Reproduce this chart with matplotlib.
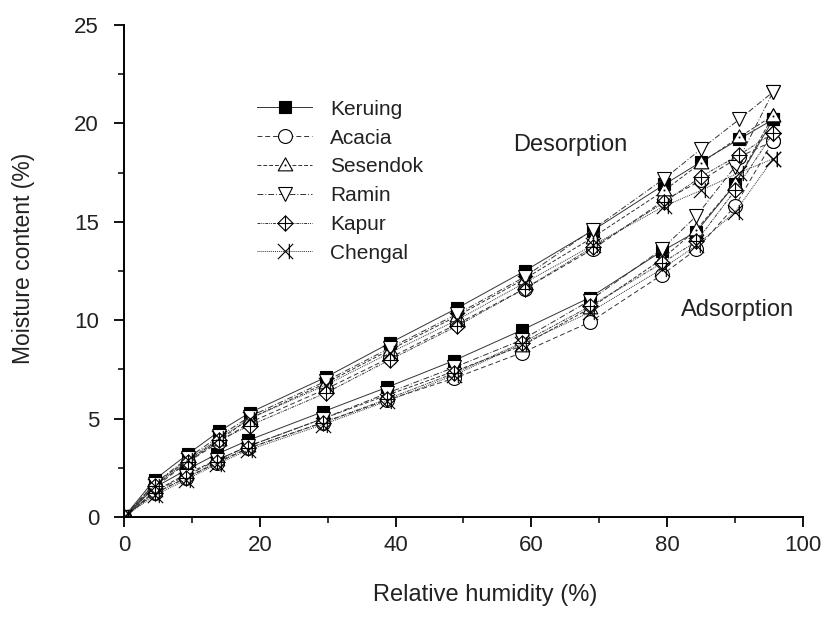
import numpy as np
import matplotlib.pyplot as plt
from matplotlib.path import Path

plt.rcParams['font.family'] = ['Liberation Sans', 'DejaVu Sans']

# Relative humidity (%) steps
rh_ads = [0, 4.5, 9.2, 13.7, 18.3, 29.3, 38.8, 48.6, 58.6, 68.6, 79.2, 84.3, 90.0, 95.6]
rh_des = [0, 4.5, 9.4, 14.0, 18.5, 29.7, 39.2, 49.0, 59.0, 69.0, 79.6, 85.0, 90.6, 95.6]

species = ['Keruing', 'Acacia', 'Sesendok', 'Ramin', 'Kapur', 'Chengal']

# moisture content (%)
keruing_ads = [0, 1.5, 2.4, 3.2, 3.9, 5.35, 6.6, 7.95, 9.5, 11.15, 13.5, 14.5, 16.9, 20.2]
keruing_des = [0, 1.9, 3.2, 4.35, 5.3, 7.1, 8.85, 10.6, 12.5, 14.55, 16.9, 18.05, 19.2, 20.2]
acacia_ads = [0, 1.2, 2.0, 2.75, 3.5, 4.8, 5.95, 7.05, 8.35, 9.9, 12.3, 13.6, 15.8, 19.1]
acacia_des = [0, 1.5, 2.8, 3.8, 4.8, 6.5, 8.1, 9.8, 11.6, 13.6, 16.1, 17.1, 18.3, 19.1]
sesendok_ads = [0, 1.3, 2.2, 2.9, 3.6, 5.0, 6.2, 7.4, 8.7, 10.6, 13.1, 14.6, 16.9, 20.4]
sesendok_des = [0, 1.7, 2.9, 3.9, 5.0, 6.8, 8.5, 10.2, 12.1, 14.2, 16.6, 18.0, 19.3, 20.4]
ramin_ads = [0, 1.3, 2.1, 2.9, 3.6, 5.0, 6.3, 7.6, 9.0, 11.0, 13.6, 15.3, 17.8, 21.6]
ramin_des = [0, 1.7, 3.0, 4.1, 5.1, 6.9, 8.6, 10.3, 12.2, 14.6, 17.2, 18.7, 20.2, 21.6]
kapur_ads = [0, 1.2, 2.0, 2.8, 3.5, 4.8, 6.0, 7.3, 8.85, 10.7, 12.9, 14.0, 16.6, 19.5]
kapur_des = [0, 1.6, 2.8, 3.9, 4.65, 6.3, 8.0, 9.7, 11.6, 13.7, 16.0, 17.3, 18.4, 19.5]
chengal_ads = [0, 1.1, 1.9, 2.7, 3.4, 4.7, 5.9, 7.2, 8.8, 10.4, 12.6, 13.8, 15.5, 18.2]
chengal_des = [0, 1.6, 2.9, 4.0, 5.0, 6.7, 8.35, 10.0, 11.9, 13.8, 15.8, 16.6, 17.5, 18.2]

ads = [keruing_ads, acacia_ads, sesendok_ads, ramin_ads, kapur_ads, chengal_ads]
des = [keruing_des, acacia_des, sesendok_des, ramin_des, kapur_des, chengal_des]

# custom markers
M, L, C = Path.MOVETO, Path.LINETO, Path.CLOSEPOLY
tri_dot = Path([(0, 1), (-0.95, -0.7), (0.95, -0.7), (0, 1), (0, 0),
                (-0.05, -0.05), (0.05, -0.05), (0.05, 0.05), (-0.05, 0.05), (0, 0)],
               [M, L, L, L, C, M, L, L, L, C])
diamond_plus = Path([(0, 1), (1, 0), (0, -1), (-1, 0), (0, 0),
                     (0, 1), (0, -1), (-1, 0), (1, 0)],
                    [M, L, L, L, C, M, L, M, L])
bowtie_x = Path([(-1, -1), (1, 1), (-1, 1), (1, -1), (0.5, 1), (0.5, -1)],
                [M, L, M, L, M, L])

markers = ['s', 'o', tri_dot, 'v', diamond_plus, bowtie_x]
msizes = [8.5, 10, 11, 10, 11, 11]
faces = ['black', 'white', 'white', 'white', 'white', 'none']
styles = ['-', (0, (5, 3)), (0, (4, 2)), (0, (6, 2, 1, 2)),
          (0, (3, 1, 1, 1, 1, 1)), (0, (1, 1))]

fig = plt.figure(figsize=(8.24, 6.17), dpi=100)
ax = fig.add_axes([0.1505, 0.162, 0.824, 0.7975])

lc = '#333333'
tc = '#222222'
for i, name in enumerate(species):
    ax.plot(rh_ads, ads[i], color=lc, lw=0.7, ls=styles[i], marker=markers[i],
            ms=msizes[i], mfc=faces[i], mec='black', mew=0.8, label=name)
    ax.plot(rh_des, des[i], color=lc, lw=0.7, ls=styles[i], marker=markers[i],
            ms=msizes[i], mfc=faces[i], mec='black', mew=0.8)

ax.set_xlim(0, 100)
ax.set_ylim(0, 25)
ax.set_xticks([0, 20, 40, 60, 80, 100])
ax.set_xticks([10, 30, 50, 70, 90], minor=True)
ax.set_yticks([0, 5, 10, 15, 20, 25])
ax.set_yticks([2.5, 7.5, 12.5, 17.5, 22.5], minor=True)
for s in ['top', 'right']:
    ax.spines[s].set_visible(False)
for s in ['left', 'bottom']:
    ax.spines[s].set_linewidth(1.4)
ax.tick_params(which='major', direction='out', length=7, width=1.3,
               labelsize=16, colors='black', labelcolor=tc)
ax.tick_params(which='minor', direction='out', length=4.5, width=1.1)
ax.tick_params(axis='x', which='major', pad=6)
ax.tick_params(axis='y', which='major', pad=11)

ax.set_xlabel('Relative humidity (%)', fontsize=17, color=tc, va='center')
ax.xaxis.set_label_coords(0.532, -0.1585)
ax.set_ylabel('Moisture content (%)', fontsize=16.5, color=tc, va='center')
ax.yaxis.set_label_coords(-0.1487, 0.526)

ax.text(65.7, 18.9, 'Desorption', fontsize=17, color=tc, ha='center', va='center')
ax.text(90.4, 10.5, 'Adsorption', fontsize=17, color=tc, ha='center', va='center')

leg = ax.legend(loc='upper left', bbox_to_anchor=(0.196, 0.848), frameon=False,
                fontsize=15, handlelength=2.65, handletextpad=0.87,
                labelspacing=0.47, borderpad=0, borderaxespad=0)
for t in leg.get_texts():
    t.set_color(tc)

fig.savefig('out.png', dpi=100)
